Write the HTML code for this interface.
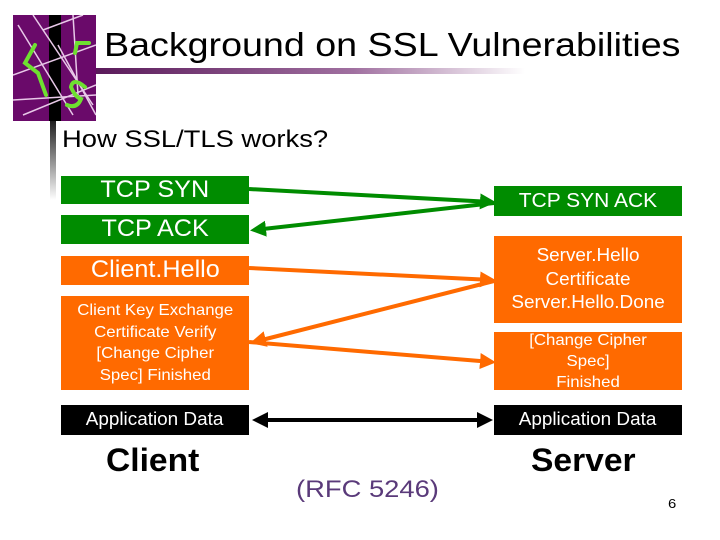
<!DOCTYPE html>
<html><head><meta charset="utf-8"><style>
body{margin:0;width:720px;height:540px;background:#fff;position:relative;overflow:hidden;font-family:"Liberation Sans",sans-serif}
.b{position:absolute;color:#fff;text-align:center;display:flex;align-items:center;justify-content:center;line-height:1.1}
.g{background:#008c00}.o{background:#ff6a00}.k{background:#000}
.t{position:absolute;white-space:nowrap;transform-origin:0 50%;transform:scaleX(1.14)}
.s{display:inline-block;transform:scaleX(1.05)}
</style></head><body>
<div style="position:absolute;left:50px;top:110px;width:6px;height:90px;background:linear-gradient(#000,#fff)"></div>
<div style="position:absolute;left:95px;top:68px;width:430px;height:6px;background:linear-gradient(90deg,#5a1a5a,#a070a0 60%,#fff)"></div>
<svg style="position:absolute;left:13px;top:15px" width="83" height="106" viewBox="0 0 83 106">
<rect width="83" height="106" fill="#6a0a6a"/>
<rect x="36" y="0" width="12" height="106" fill="#000"/>
<g stroke="#e8c8e8" stroke-width="1.5" fill="none">
<line x1="5" y1="10" x2="60" y2="100"/><line x1="20" y1="0" x2="80" y2="90"/><line x1="0" y1="60" x2="83" y2="30"/>
<line x1="10" y1="100" x2="83" y2="70"/><line x1="30" y1="15" x2="70" y2="0"/><line x1="60" y1="0" x2="65" y2="80"/>
<line x1="0" y1="85" x2="83" y2="80"/><line x1="45" y1="30" x2="83" y2="100"/></g>
<g stroke="#6ee030" stroke-width="4" fill="none" stroke-linecap="round">
<polyline points="22,30 12,48 25,58 33,80"/><polyline points="62,38 64,28 76,28"/><path d="M72,72 Q60,62 58,72 Q62,82 68,84 Q64,94 54,90"/></g>
</svg>
<div class="t" style="left:104px;top:26px;font-size:33px">Background on SSL Vulnerabilities</div>
<div class="t" style="left:62px;top:126px;font-size:24px">How SSL/TLS works?</div>
<div class="b g" style="left:61px;top:176px;width:188px;height:28px;font-size:24px"><span class="s">TCP SYN</span></div>
<div class="b g" style="left:61px;top:215px;width:188px;height:29px;font-size:24px"><span class="s">TCP ACK</span></div>
<div class="b o" style="left:61px;top:256px;width:188px;height:29px;font-size:24px"><span class="s">Client.Hello</span></div>
<div class="b o" style="left:61px;top:296px;width:188px;height:94px;font-size:16px;line-height:21.5px"><span class="s">Client Key Exchange<br>Certificate Verify<br>[Change Cipher<br>Spec] Finished</span></div>
<div class="b k" style="left:61px;top:405px;width:188px;height:30px;font-size:18px"><span class="s">Application Data</span></div>
<div class="b g" style="left:494px;top:186px;width:188px;height:30px;font-size:20px"><span class="s">TCP SYN ACK</span></div>
<div class="b o" style="left:494px;top:236px;width:188px;height:87px;font-size:18px;line-height:23.5px"><span class="s">Server.Hello<br>Certificate<br>Server.Hello.Done</span></div>
<div class="b o" style="left:494px;top:332px;width:188px;height:58px;font-size:16px;line-height:21px;align-items:flex-start;overflow:hidden"><span class="s" style="margin-top:-2px">[Change Cipher<br>Spec]<br>Finished</span></div>
<div class="b k" style="left:494px;top:405px;width:188px;height:30px;font-size:18px"><span class="s">Application Data</span></div>
<svg style="position:absolute;left:0;top:0" width="720" height="540">
<defs>
<marker id="mg" markerWidth="4" markerHeight="4" refX="3" refY="2" orient="auto"><path d="M0,0L4,2L0,4z" fill="#008c00"/></marker>
<marker id="mo" markerWidth="4" markerHeight="4" refX="3" refY="2" orient="auto"><path d="M0,0L4,2L0,4z" fill="#ff6a00"/></marker>
<marker id="mk" markerWidth="4" markerHeight="4" refX="3" refY="2" orient="auto-start-reverse"><path d="M0,0L4,2L0,4z" fill="#000"/></marker>
</defs>
<g stroke-width="4" fill="none">
<line x1="249" y1="189" x2="492" y2="202" stroke="#008c00" marker-end="url(#mg)"/>
<line x1="494" y1="203" x2="254" y2="230" stroke="#008c00" marker-end="url(#mg)"/>
<line x1="249" y1="268" x2="492" y2="280" stroke="#ff6a00" marker-end="url(#mo)"/>
<line x1="494" y1="281" x2="254" y2="342" stroke="#ff6a00" marker-end="url(#mo)"/>
<line x1="249" y1="342" x2="492" y2="362" stroke="#ff6a00" marker-end="url(#mo)"/>
<line x1="256" y1="420" x2="489" y2="420" stroke="#000" marker-start="url(#mk)" marker-end="url(#mk)"/>
</g></svg>
<div class="t" style="left:106px;top:442px;font-size:32px;font-weight:bold;transform:scaleX(1.05)">Client</div>
<div class="t" style="left:531px;top:442px;font-size:32px;font-weight:bold;transform:scaleX(1.05)">Server</div>
<div class="t" style="left:296px;top:476px;font-size:24px;color:#5a3a7a">(RFC 5246)</div>
<div class="t" style="left:668px;top:496px;font-size:13px">6</div>
</body></html>
